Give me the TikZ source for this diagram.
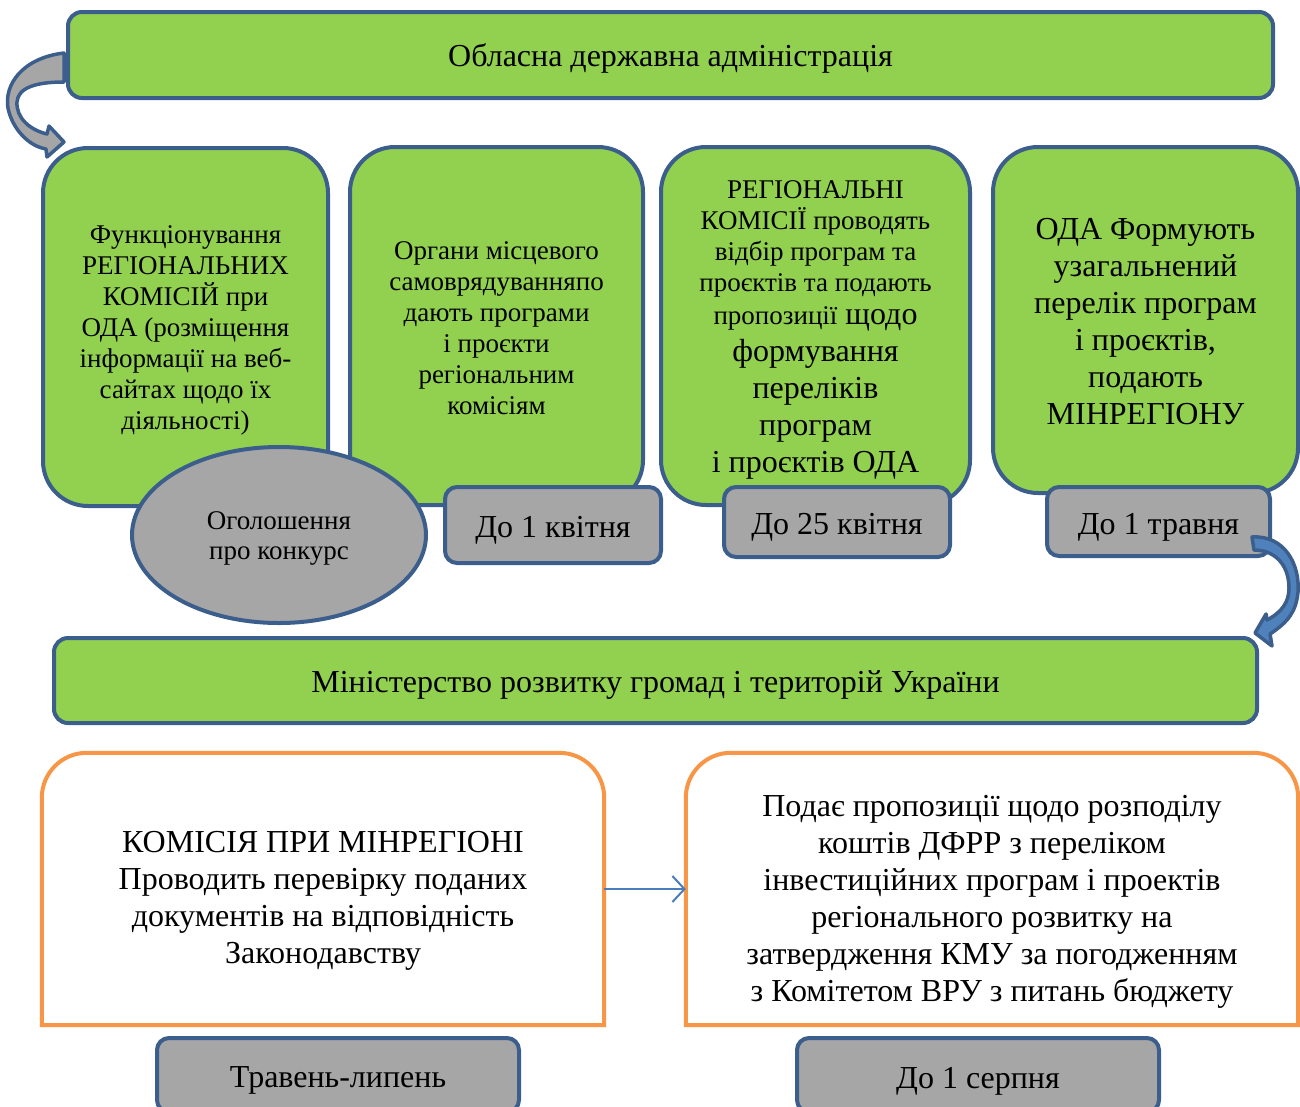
\documentclass[tikz,border=0pt]{standalone}
\usepackage{fontspec}
\setmainfont{Liberation Serif}
\usetikzlibrary{shapes.geometric,arrows.meta}
\definecolor{odagreen}{HTML}{92D050}
\definecolor{odablue}{HTML}{3B5E8C}
\definecolor{odagray}{HTML}{A6A6A6}
\definecolor{odaorange}{HTML}{F79646}
\definecolor{odaarrow}{HTML}{4A7EBB}
\definecolor{odafill}{HTML}{4F81BD}
\newcommand{\smalltxt}{\fontsize{27}{31}\selectfont}
\newcommand{\bigtxt}{\fontsize{32}{37}\selectfont}
\newcommand{\wst}{\rule[-0.216em]{0pt}{1.107em}}
\newcommand{\wsx}[1]{\rule[-0.216em]{0pt}{\dimexpr 1.107em+#1\relax}}
\begin{document}
\begin{tikzpicture}[x=1pt,y=-1pt,
  greenbox/.style={draw=odablue, line width=4pt, fill=odagreen, rounded corners=45pt, align=center, inner sep=0pt},
  barbox/.style={draw=odablue, line width=4pt, fill=odagreen, rounded corners=14pt, font=\bigtxt},
  datebox/.style={draw=odablue, line width=4pt, fill=odagray, rounded corners=12pt, font=\bigtxt},
  orangetext/.style={align=center, font=\bigtxt, inner sep=0pt},
  orangeline/.style={draw=odaorange, line width=4pt}]
\useasboundingbox (0,0) rectangle (1300,1106);
% top bar
\node [barbox, minimum width=1205pt, minimum height=86pt] (oda) at (670.5,55) {\wsx{2pt}Обласна державна адміністрація};
% four stages
\node [greenbox, minimum width=285pt, minimum height=358pt, font=\smalltxt] (func) at (185.5,327) {\wst Функціонування\\РЕГІОНАЛЬНИХ\\КОМІСІЙ при\\ОДА (розміщення\\інформації на веб-\\сайтах щодо їх\\діяльності)\wst};
\node [greenbox, minimum width=293pt, minimum height=358pt, font=\smalltxt] (orgn) at (496.5,326) {\wsx{3pt}Органи місцевого\\самоврядуванняпо\\дають програми\\і проєкти\\регіональним\\комісіям\wst};
\node [greenbox, minimum width=309pt, minimum height=358pt, font=\bigtxt] (regk) at (815.5,326) {{\smalltxt\wsx{2pt}РЕГІОНАЛЬНІ}\\[-6pt]{\smalltxt КОМІСІЇ проводять}\\[-6pt]{\smalltxt відбір програм та}\\[-6pt]{\smalltxt проєктів та подають}\\[-4pt]{\smalltxt пропозиції} щодо\\формування\\переліків\\програм\\і проєктів ОДА\wst};
\node [greenbox, minimum width=305pt, minimum height=346pt, font=\bigtxt] (form) at (1145.5,320) {\wsx{2pt}ОДА Формують\\узагальнений\\перелік програм\\і проєктів,\\подають\\МІНРЕГІОНУ\wst};
% announcement and dates
\node [ellipse, draw=odablue, line width=4pt, fill=odagray, minimum width=294pt, minimum height=176pt, align=center, inner sep=0pt, font=\fontsize{27}{30}\selectfont] (ogol) at (279,535) {\wst Оголошення\\про конкурс\wst};
\node [datebox, minimum width=216pt, minimum height=76pt] (kvit) at (553,525) {\wsx{4pt}До 1 квітня};
\node [datebox, minimum width=226pt, minimum height=70pt] (kvit25) at (837,522) {\wsx{4pt}До 25 квітня};
\node [datebox, minimum width=223pt, minimum height=69pt] (trav) at (1158.5,521.5) {\wsx{4pt}До 1 травня};
% ministry bar
\node [barbox, minimum width=1203pt, minimum height=85pt] (mins) at (655.5,680.5) {\wsx{2pt}Міністерство розвитку громад і територій України};
% curved arrows
\begin{scope}[shift={(oda.west)}]
\draw [draw=odablue, fill=odagray, line width=3.5pt, line join=round] (-2,-2) .. controls (-44,3) and (-62,30) .. (-58,53) .. controls (-54,73) and (-38,91) .. (-20,94) -- (-19,102) -- (-2,87) -- (-17,71) -- (-19,79) .. controls (-36,75) and (-50,63) .. (-49,47) .. controls (-48,33) and (-31,27) .. (-2,27) -- cycle;
\end{scope}
\begin{scope}[shift={(trav.south east)}]
\draw [draw=odablue, fill=odafill, line width=3.5pt, line join=round] (-20,-21) .. controls (13,-23) and (28,7) .. (26,34) .. controls (24,54) and (16,64) .. (-2,76) -- (0,88) -- (-17,75) -- (-6,56) -- (-5,62) .. controls (10,54) and (17,44) .. (17,30) .. controls (17,7) and (3,-8) .. (-18,-8) -- cycle;
\end{scope}
% bottom row
\node [orangetext, minimum width=562pt, minimum height=272pt] (komm) at (323,889) {\wsx{16pt}КОМІСІЯ ПРИ МІНРЕГІОНІ\\Проводить перевірку поданих\\документів на відповідність\\Законодавству\wst};
\node [orangetext, minimum width=612pt, minimum height=272pt] (poda) at (992,889) {\wsx{18pt}Подає пропозиції щодо розподілу\\коштів ДФРР з переліком\\інвестиційних програм і проектів\\регіонального розвитку на\\затвердження КМУ за погодженням\\з Комітетом ВРУ з питань бюджету\wst};
\draw [orangeline] (komm.south west) -- ([yshift=-45pt]komm.north west) arc[start angle=180, end angle=90, radius=45pt] -- ([xshift=-45pt]komm.north east) arc[start angle=90, end angle=0, radius=45pt] -- (komm.south east) -- cycle;
\draw [orangeline] (poda.south west) -- ([yshift=-45pt]poda.north west) arc[start angle=180, end angle=90, radius=45pt] -- ([xshift=-45pt]poda.north east) arc[start angle=90, end angle=0, radius=45pt] -- (poda.south east) -- cycle;
\draw [odaarrow, line width=2pt, -{Straight Barb[length=12pt,width=26pt]}] (komm.east) -- (poda.west);
\node [datebox, minimum width=362pt, minimum height=74pt] (tlyp) at (338,1075) {\wsx{4pt}Травень-липень};
\node [datebox, minimum width=362pt, minimum height=74pt] (serp) at (978,1075) {\wsx{5pt}До 1 серпня};
\end{tikzpicture}
\end{document}
